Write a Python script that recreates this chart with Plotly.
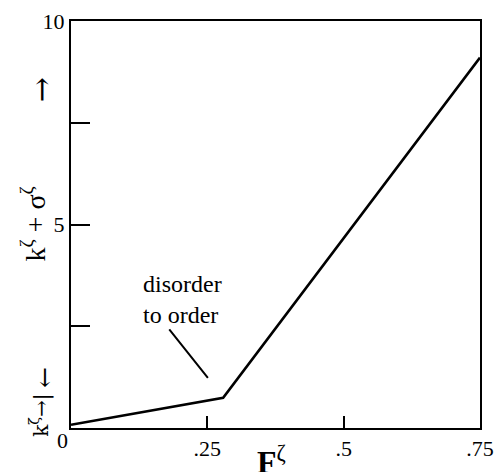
import plotly.graph_objects as go

# data
F_zeta = [0.0, 0.279, 0.75]
k_plus_sigma = [0.08, 0.74, 9.1]

x_tick_vals = [0, 0.25, 0.5, 0.75]
x_tick_text = ["", ".25", ".5", ".75"]
y_tick_vals = [0, 2.5, 5, 7.5, 10]
y_tick_text = ["", "", "5", "", "10"]

x_title = "<b>F</b><sup>ζ</sup>"
y_title = "k<sup>ζ</sup> + σ<sup>ζ</sup>"
k_marker = "k<sup>ζ</sup>→|"

note_text = "disorder<br>to order"
note_pos = (0.128, 3.15)
leader_tail = (0.178, 2.46)
leader_head = (0.251, 1.23)

FONT = "Liberation Serif, DejaVu Serif, serif"
ARROW_FONT = "DejaVu Serif"

fig = go.Figure()
fig.add_trace(go.Scatter(x=F_zeta, y=k_plus_sigma, mode="lines",
                         line=dict(color="black", width=2.6),
                         hoverinfo="skip", showlegend=False))

fig.update_layout(
    width=497, height=472,
    margin=dict(l=71, r=17, t=21, b=44),
    paper_bgcolor="white", plot_bgcolor="white",
    font=dict(family=FONT, size=22, color="black"),
    showlegend=False,
    xaxis=dict(range=[0, 0.75], tickvals=x_tick_vals, ticktext=x_tick_text,
               ticks="inside", ticklen=12, tickwidth=2, tickcolor="black",
               showline=True, linecolor="black", linewidth=2, mirror=True,
               showgrid=False, zeroline=False, automargin=False,
               tickfont=dict(family=FONT, size=22)),
    yaxis=dict(range=[0, 10], tickvals=y_tick_vals, ticktext=y_tick_text,
               ticks="inside", ticklen=19, tickwidth=2, tickcolor="black",
               showline=True, linecolor="black", linewidth=2, mirror=True,
               showgrid=False, zeroline=False, automargin=False,
               tickfont=dict(family=FONT, size=22)),
)

# axis titles
fig.add_annotation(x=0.49, y=0, xref="paper", yref="paper", text=x_title,
                   showarrow=False, xanchor="center", yanchor="top", yshift=-10,
                   font=dict(family=FONT, size=32))
fig.add_annotation(x=0, y=5.0, xref="paper", yref="y", text=y_title, textangle=-90,
                   showarrow=False, xanchor="center", yanchor="middle", xshift=-37,
                   font=dict(family=FONT, size=28))

# corner zero
fig.add_annotation(x=0, y=0, xref="x", yref="y", text="0", showarrow=False,
                   xanchor="right", yanchor="top", xshift=-1, yshift=2,
                   font=dict(family=FONT, size=22))

# annotation text and leader line
fig.add_annotation(x=note_pos[0], y=note_pos[1], xref="x", yref="y", text=note_text,
                   showarrow=False, xanchor="left", yanchor="middle", align="left",
                   font=dict(family=FONT, size=24))
fig.add_annotation(x=leader_head[0], y=leader_head[1], ax=leader_tail[0], ay=leader_tail[1],
                   xref="x", yref="y", axref="x", ayref="y", text="",
                   showarrow=True, arrowhead=0, arrowwidth=2, arrowcolor="black")

# arrows on the y side
fig.add_annotation(x=0, y=8.3, xref="paper", yref="y", text="→", textangle=-90,
                   showarrow=False, xanchor="center", yanchor="middle", xshift=-30,
                   font=dict(family=ARROW_FONT, size=30))
fig.add_annotation(x=0, y=1.23, xref="paper", yref="y", text="←", textangle=-90,
                   showarrow=False, xanchor="center", yanchor="middle", xshift=-26,
                   font=dict(family=ARROW_FONT, size=25))
fig.add_annotation(x=0, y=0.3, xref="paper", yref="y", text=k_marker, textangle=-90,
                   showarrow=False, xanchor="center", yanchor="middle", xshift=-31,
                   font=dict(family=ARROW_FONT, size=20))

fig.write_html("out.html", config={"displayModeBar": False},
               post_script="document.body.style.margin='0px';")
